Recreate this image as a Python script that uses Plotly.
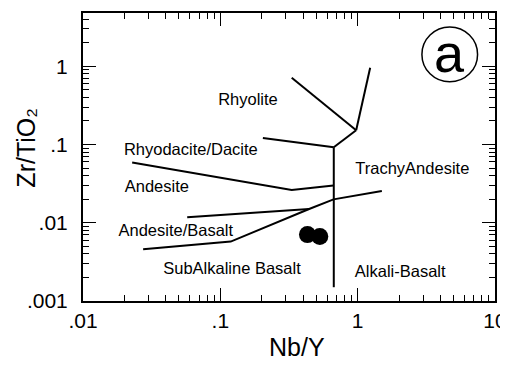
import plotly.graph_objects as go

# ---- data ----
# boundary lines of the Nb/Y vs Zr/TiO2 classification diagram
vert_x = [0.67, 0.67]
vert_y = [0.0015, 0.092]
junction_x = [0.67, 0.975]
junction_y = [0.092, 0.152]
rhyolite_left_x = [0.331, 0.975]
rhyolite_left_y = [0.714, 0.152]
rhyolite_right_x = [0.975, 1.233]
rhyolite_right_y = [0.152, 0.957]
rhyodacite_top_x = [0.204, 0.67]
rhyodacite_top_y = [0.121, 0.092]
andesite_top_x = [0.0228, 0.331, 0.667]
andesite_top_y = [0.059, 0.0262, 0.030]
andesite_bottom_x = [0.0574, 0.443]
andesite_bottom_y = [0.01175, 0.015]
basalt_line_x = [0.0274, 0.119, 0.443, 0.667, 1.50]
basalt_line_y = [0.00459, 0.00574, 0.015, 0.0199, 0.0254]

# sample points
sample_nb_y = [0.431, 0.530]
sample_zr_tio2 = [0.00705, 0.00665]

# field labels
field_names = ["Rhyolite", "Rhyodacite/Dacite", "Andesite", "Andesite/Basalt",
               "SubAlkaline Basalt", "Alkali-Basalt", "TrachyAndesite"]
field_x = [0.159, 0.061, 0.0345, 0.0474, 0.1216, 2.04, 2.50]
field_y = [0.356, 0.082, 0.0277, 0.00763, 0.0025, 0.00229, 0.0471]

x_major = [0.01, 0.1, 1, 10]
x_major_text = [".01", ".1", "1", "10"]
y_major = [0.001, 0.01, 0.1, 1]
y_major_text = [".001", ".01", ".1", "1"]
x_minor = [m * d for d in [0.01, 0.1, 1] for m in range(2, 10)]
y_minor = [m * d for d in [0.001, 0.01, 0.1, 1] for m in range(2, 10) if m * d < 4.8]

FONT = "Liberation Sans"
fig = go.Figure()

lines = [
    (vert_x, vert_y), (junction_x, junction_y), (rhyolite_left_x, rhyolite_left_y),
    (rhyolite_right_x, rhyolite_right_y), (rhyodacite_top_x, rhyodacite_top_y),
    (andesite_top_x, andesite_top_y), (andesite_bottom_x, andesite_bottom_y),
    (basalt_line_x, basalt_line_y),
]
for lx, ly in lines:
    fig.add_trace(go.Scatter(x=lx, y=ly, mode="lines",
                             line=dict(color="black", width=2),
                             showlegend=False))

fig.add_trace(go.Scatter(x=sample_nb_y, y=sample_zr_tio2, mode="markers",
                         marker=dict(color="black", size=17),
                         showlegend=False))

fig.add_trace(go.Scatter(x=field_x, y=field_y, mode="text", text=field_names,
                         textposition="middle center",
                         textfont=dict(family=FONT, size=16.5, color="black"),
                         showlegend=False))

fig.update_xaxes(type="log", range=[-2, 1], showline=True, linecolor="black",
                 linewidth=2, mirror="ticks", automargin=False,
                 ticks="inside", ticklen=13, tickcolor="black",
                 tickmode="array", tickvals=x_major, ticktext=x_major_text,
                 tickfont=dict(family=FONT, size=21, color="black"),
                 minor=dict(ticks="inside", ticklen=6,
                            tickcolor="black", tickmode="array", tickvals=x_minor))
fig.update_yaxes(type="log", range=[-3, 0.68], showline=True, linecolor="black",
                 linewidth=2, mirror="ticks", automargin=False,
                 ticks="inside", ticklen=13, tickcolor="black",
                 tickmode="array", tickvals=y_major, ticktext=y_major_text,
                 ticklabelstandoff=9,
                 tickfont=dict(family=FONT, size=21, color="black"),
                 minor=dict(ticks="inside", ticklen=6,
                            tickcolor="black", tickmode="array", tickvals=y_minor))

# panel marker "a" in a circle
fig.add_shape(type="circle", xref="paper", yref="paper",
              x0=0.8226, x1=0.9577, y0=0.761, y1=0.9515,
              line=dict(color="black", width=1.5))
fig.add_annotation(xref="paper", yref="paper", x=0.889, y=0.862, text="a",
                   showarrow=False, font=dict(family=FONT, size=54, color="black"),
                   xanchor="center", yanchor="middle")

# axis titles
fig.add_annotation(xref="paper", yref="paper", x=0.519, y=-0.158, text="Nb/Y",
                   showarrow=False, font=dict(family=FONT, size=25, color="black"),
                   xanchor="center", yanchor="middle")
fig.add_annotation(xref="paper", yref="paper", x=-0.137, y=0.531,
                   text="Zr/TiO₂", textangle=-90,
                   showarrow=False, font=dict(family=FONT, size=25, color="black"),
                   xanchor="center", yanchor="middle")

fig.update_layout(
    width=500, height=359,
    margin=dict(l=75, r=13, t=5, b=66),
    plot_bgcolor="white",
)

fig.write_html("out.html")
